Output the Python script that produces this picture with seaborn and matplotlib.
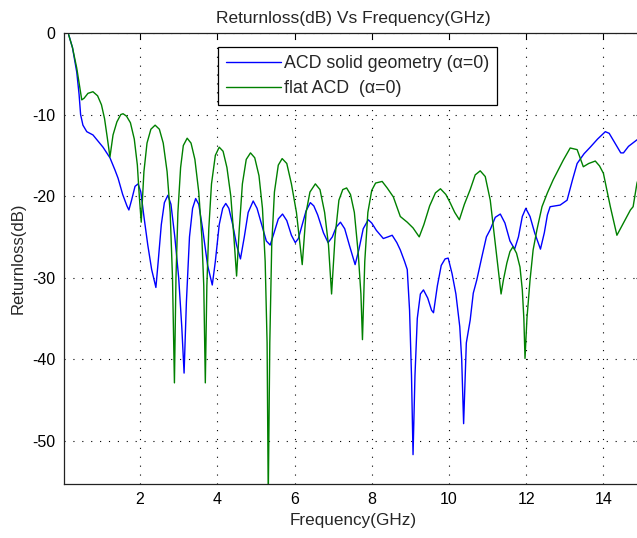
import numpy as np
import pandas as pd
import matplotlib
matplotlib.use("Agg")
import matplotlib.pyplot as plt
import seaborn as sns

# Frequency (GHz) and return loss (dB) for the solid-geometry ACD
freq_solid = [0.15, 0.25, 0.36, 0.42, 0.46, 0.52, 0.62, 0.78, 0.9, 1.04, 1.22, 1.35, 1.43,
              1.55, 1.66, 1.71, 1.78, 1.87, 1.95, 2.02, 2.1, 2.2, 2.3, 2.41, 2.47, 2.55,
              2.63, 2.72, 2.8, 2.9, 3.0, 3.08, 3.14, 3.2, 3.28, 3.36, 3.44, 3.52, 3.62,
              3.75, 3.87, 3.95, 4.05, 4.14, 4.22, 4.3, 4.4, 4.5, 4.6, 4.7, 4.8, 4.93,
              5.03, 5.15, 5.27, 5.37, 5.47, 5.58, 5.69, 5.8, 5.92, 6.02, 6.1, 6.2, 6.3,
              6.41, 6.5, 6.6, 6.75, 6.87, 6.98, 7.08, 7.19, 7.3, 7.42, 7.57, 7.67, 7.78,
              7.91, 8.0, 8.12, 8.3, 8.42, 8.53, 8.65, 8.74, 8.85, 8.92, 8.98, 9.03, 9.07,
              9.12, 9.18, 9.26, 9.34, 9.45, 9.55, 9.6, 9.7, 9.8, 9.9, 9.98, 10.08, 10.18,
              10.28, 10.33, 10.38, 10.45, 10.55, 10.63, 10.72, 10.85, 10.97, 11.07, 11.2,
              11.33, 11.45, 11.58, 11.7, 11.8, 11.9, 11.99, 12.1, 12.22, 12.37, 12.47,
              12.55, 12.62, 12.75, 12.88, 13.06, 13.2, 13.32, 13.5, 13.66, 13.85, 14.05,
              14.15, 14.3, 14.45, 14.52, 14.65, 14.87, 15.0]
rl_solid = [-0.2, -1.8, -4.8, -7.5, -10.0, -11.3, -12.1, -12.5, -13.2, -14.0, -15.3, -16.8, -17.8,
            -19.8, -21.2, -21.7, -20.5, -18.8, -18.5, -19.5, -22.5, -26.0, -29.0, -31.2, -28.0, -23.5,
            -20.8, -19.9, -21.0, -25.0, -30.0, -36.0, -41.7, -33.0, -25.0, -21.5, -20.3, -21.0, -24.0,
            -28.5, -30.9, -28.0, -23.5, -21.5, -20.9, -21.5, -23.5, -26.0, -27.7, -25.0, -22.0, -20.6,
            -21.5, -23.5, -25.5, -26.0, -24.5, -22.8, -22.2, -23.0, -24.8, -25.7, -25.2, -23.5, -21.8,
            -20.8, -21.2, -22.3, -24.5, -25.7, -25.0, -23.8, -23.2, -24.0, -26.0, -28.4, -26.5, -24.0,
            -22.9, -23.3, -24.2, -25.2, -25.0, -24.8, -25.7, -26.6, -28.0, -29.0, -34.0, -42.0, -51.7,
            -42.0, -35.0, -32.0, -31.5, -32.5, -34.0, -34.3, -31.0, -28.5, -27.7, -27.6, -29.5, -32.0,
            -36.0, -40.0, -47.9, -38.0, -35.2, -31.9, -30.3, -27.5, -25.0, -24.1, -22.6,
            -22.2, -23.3, -25.5, -26.5, -25.0, -22.5, -21.5, -22.5, -24.5, -26.5, -24.5,
            -22.3, -21.3, -21.2, -21.1, -20.5, -18.0, -16.0, -14.8, -14.0, -13.0, -12.1,
            -12.3, -13.5, -14.7, -14.7, -13.9, -13.1, -12.8]

# Frequency (GHz) and return loss (dB) for the flat ACD
freq_flat = [0.15, 0.25, 0.36, 0.42, 0.49, 0.55, 0.65, 0.78, 0.9, 1.0, 1.08, 1.15, 1.22, 1.3,
             1.4, 1.5, 1.56, 1.65, 1.75, 1.85, 1.93, 1.98, 2.03, 2.1, 2.18, 2.28, 2.39, 2.5,
             2.6, 2.7, 2.78, 2.84, 2.89, 2.93, 2.98, 3.05, 3.12, 3.22, 3.32, 3.42, 3.52, 3.6,
             3.65, 3.69, 3.73, 3.78, 3.85, 3.95, 4.05, 4.15, 4.25, 4.35, 4.43, 4.5, 4.57,
             4.65, 4.75, 4.86, 4.97, 5.08, 5.17, 5.24, 5.29, 5.32, 5.36, 5.41, 5.48, 5.58,
             5.68, 5.8, 5.92, 6.05, 6.2, 6.3, 6.4, 6.54, 6.66, 6.78, 6.88, 6.96, 7.05, 7.15,
             7.25, 7.35, 7.45, 7.55, 7.65, 7.72, 7.76, 7.82, 7.9, 8.0, 8.1, 8.27, 8.4, 8.56,
             8.74, 8.92, 9.07, 9.23, 9.35, 9.5, 9.65, 9.78, 9.92, 10.03, 10.15, 10.27, 10.4,
             10.55, 10.68, 10.81, 10.94, 11.07, 11.15, 11.24, 11.35, 11.41, 11.5, 11.58,
             11.66, 11.75, 11.84, 11.9, 11.94, 11.97, 12.02, 12.1, 12.18, 12.28, 12.41,
             12.55, 12.7, 12.96, 13.14, 13.32, 13.48, 13.62, 13.79, 13.9, 14.0, 14.18,
             14.35, 14.52, 14.7, 14.77, 14.87, 15.0]
rl_flat = [-0.2, -1.8, -4.3, -6.1, -8.2, -8.0, -7.4, -7.2, -7.7, -8.8, -10.5, -12.8, -15.2, -12.5,
           -10.9, -10.0, -9.9, -10.2, -11.0, -13.0, -16.2, -20.0, -23.2, -17.0, -13.5, -11.8, -11.3, -11.8,
           -13.5, -17.0, -22.0, -30.0, -42.9, -30.0, -22.0, -16.5, -13.8, -12.9, -13.5, -15.5, -19.5, -25.0,
           -31.0, -42.9, -31.0, -24.0, -18.5, -15.0, -14.0, -14.5, -16.5, -20.0, -25.0, -29.8, -24.0,
           -18.5, -15.5, -14.7, -15.3, -17.5, -21.5, -28.0, -38.0, -57.0, -38.0, -26.0, -19.5, -16.2,
           -15.4, -16.0, -18.5, -22.0, -28.4, -22.0, -19.5, -18.5, -19.2, -22.0, -26.0, -32.0, -25.0, -20.5,
           -19.2, -19.0, -19.8, -22.0, -27.0, -32.0, -37.6, -28.0, -22.0, -19.3, -18.4, -18.2, -19.0, -20.1,
           -22.5, -23.2, -23.9, -25.0, -23.5, -21.2, -19.6, -19.1, -19.8, -20.8, -22.0, -22.9, -21.0,
           -19.2, -17.4, -16.9, -17.6, -20.5, -23.8, -27.5, -32.0, -30.3, -28.2, -26.8,
           -26.2, -27.0, -28.7, -31.5, -35.0, -39.9, -35.0, -30.3, -26.6, -24.1, -21.3,
           -19.6, -18.0, -15.6, -14.1, -14.3, -16.4, -16.0, -15.7, -16.3, -17.2, -21.3,
           -24.8, -23.3, -21.7, -21.3, -18.4, -16.5]

title_text = "Returnloss(dB) Vs Frequency(GHz)"
x_label = "Frequency(GHz)"
y_label = "Returnloss(dB)"
label_solid = "ACD solid geometry (\u03b1=0)"
label_flat = "flat ACD  (\u03b1=0)"
x_ticks = [2, 4, 6, 8, 10, 12, 14]
y_ticks = [0, -10, -20, -30, -40, -50]

sns.set_style("white")
plt.rcParams["font.family"] = ["Liberation Sans", "DejaVu Sans"]

df_solid = pd.DataFrame({"f": freq_solid, "rl": rl_solid})
df_flat = pd.DataFrame({"f": freq_flat, "rl": rl_flat})

fig = plt.figure(figsize=(6.37, 5.38), dpi=100, facecolor="white")
ax = fig.add_axes([64 / 637, 54 / 538, 578 / 637, 451 / 538])

sns.lineplot(data=df_solid, x="f", y="rl", ax=ax, color=(0, 0, 1), lw=1.0,
             label=label_solid, estimator=None, sort=False)
sns.lineplot(data=df_flat, x="f", y="rl", ax=ax, color=(0, 0.5, 0), lw=1.0,
             label=label_flat, estimator=None, sort=False)

ax.set_xlim(0.03, 15.0)
ax.set_ylim(-55.3, 0)
ax.set_xticks(x_ticks)
ax.set_yticks(y_ticks)
ax.set_xticklabels([str(t) for t in x_ticks])
ax.set_yticklabels([str(t) for t in y_ticks])

ax.grid(True, color="black", linestyle=(0, (1, 7)), linewidth=0.8)
ax.tick_params(direction="in", length=4, width=0.8, top=True, right=True,
               colors="black", labelsize=11.5, pad=6)
for s in ax.spines.values():
    s.set_color("#222222")
    s.set_linewidth(0.9)

ax.set_title(title_text, fontsize=12.5, pad=7)
ax.set_xlabel(x_label, fontsize=12.3, labelpad=4)
ax.set_ylabel(y_label, fontsize=12, labelpad=5)

leg = ax.legend(loc="upper left", bbox_to_anchor=(0.266, 0.969), frameon=True,
                fancybox=False, edgecolor="black", framealpha=1, fontsize=12.8,
                handlelength=3.1, handletextpad=0.15, borderpad=0.45, labelspacing=0.45,
                borderaxespad=0)
leg.get_frame().set_linewidth(0.9)

fig.savefig("out.png", dpi=100, facecolor="white")
